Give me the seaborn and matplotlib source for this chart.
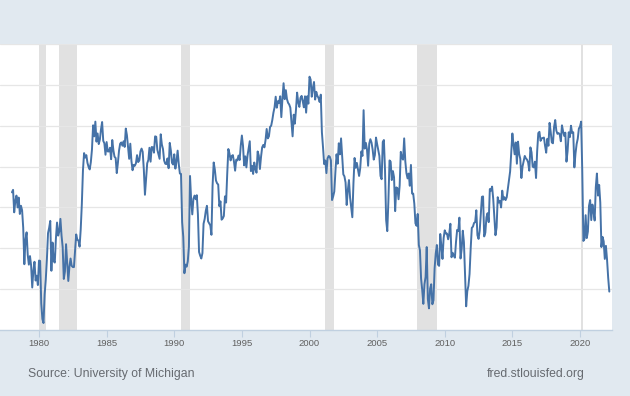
import numpy as np
import pandas as pd
import matplotlib
matplotlib.use("Agg")
import matplotlib.pyplot as plt
import seaborn as sns

# University of Michigan consumer sentiment, monthly, Jan 1978 - Mar 2022
sentiment = [
    83.7, 84.3, 78.8, 81.6, 82.9, 80.0, 82.4, 78.4, 80.4, 79.3, 75.0, 66.1,
    72.1, 73.9, 68.4, 66.0, 68.1, 65.8, 60.4, 64.5, 66.7, 62.1, 63.3, 61.0,
    67.0, 66.9, 56.5, 52.7, 51.7, 58.7, 62.3, 67.3, 73.7, 75.0, 76.7, 64.5,
    71.4, 66.9, 66.5, 72.4, 76.3, 73.1, 74.1, 77.2, 73.1, 70.3, 62.5, 64.3,
    71.0, 66.5, 62.0, 65.5, 67.5, 65.7, 65.4, 65.4, 69.3, 73.4, 72.1, 71.9,
    70.4, 74.6, 80.8, 89.1, 93.3, 92.2, 92.8, 90.9, 89.9, 89.3, 91.1, 94.2,
    100.1, 97.4, 101.0, 96.1, 98.1, 95.5, 96.6, 99.1, 100.9, 96.3, 95.7, 92.9,
    96.0, 93.7, 93.7, 94.6, 91.8, 96.5, 94.0, 92.4, 92.1, 88.4, 90.9, 93.9,
    95.6, 95.9, 95.1, 96.2, 94.8, 99.3, 97.7, 94.9, 91.9, 95.6, 91.4, 89.1,
    90.4, 90.2, 90.8, 92.8, 91.1, 91.5, 93.7, 94.4, 93.6, 89.3, 83.1, 86.8,
    90.8, 91.6, 94.6, 91.2, 94.8, 94.7, 93.4, 97.4, 97.3, 94.1, 93.0, 91.9,
    97.9, 95.4, 94.3, 91.5, 90.7, 90.6, 92.0, 89.6, 95.8, 93.9, 90.9, 90.5,
    93.0, 89.5, 91.3, 93.9, 90.6, 88.3, 88.2, 76.4, 72.8, 63.9, 66.0, 65.5,
    66.8, 70.4, 87.7, 81.8, 78.3, 82.1, 82.9, 82.0, 83.0, 78.3, 69.1, 68.2,
    67.5, 68.8, 76.0, 77.2, 79.2, 80.4, 76.6, 76.1, 75.6, 73.3, 85.3, 91.0,
    89.3, 86.6, 85.9, 85.6, 80.3, 81.5, 77.0, 77.3, 77.9, 82.7, 81.2, 88.2,
    94.3, 93.2, 91.5, 92.6, 92.8, 91.2, 89.0, 91.7, 91.5, 92.7, 91.6, 95.1,
    97.6, 95.1, 90.3, 92.5, 89.8, 92.7, 94.4, 96.2, 88.9, 90.2, 88.2, 91.0,
    89.3, 88.5, 93.7, 92.7, 89.4, 92.4, 94.7, 95.3, 94.7, 96.5, 99.2, 96.9,
    97.4, 99.7, 100.0, 101.4, 103.2, 104.5, 107.1, 104.4, 106.0, 105.6, 107.2, 102.1,
    106.6, 110.4, 106.5, 108.7, 106.5, 105.6, 105.2, 104.4, 100.9, 97.4, 102.7, 100.5,
    103.9, 108.1, 105.7, 104.6, 106.8, 107.3, 106.0, 104.5, 107.2, 103.2, 107.2, 105.4,
    112.0, 111.3, 107.1, 109.2, 110.7, 106.4, 108.3, 107.3, 106.8, 105.8, 107.6, 98.4,
    94.7, 90.6, 91.5, 88.4, 92.0, 92.6, 92.4, 91.5, 81.8, 82.7, 83.9, 88.8,
    93.0, 90.7, 95.7, 93.0, 96.9, 92.4, 88.1, 87.6, 86.1, 80.6, 84.2, 86.7,
    82.4, 79.9, 77.6, 86.0, 92.1, 89.7, 90.9, 89.3, 87.7, 89.6, 93.7, 92.6,
    103.8, 94.4, 95.8, 94.2, 90.2, 95.6, 96.7, 95.9, 94.2, 91.7, 92.8, 97.1,
    95.5, 94.1, 92.6, 87.7, 86.9, 96.0, 96.5, 89.1, 76.9, 74.2, 81.6, 91.5,
    91.2, 86.7, 88.9, 87.4, 79.1, 84.9, 84.7, 82.0, 85.4, 93.6, 92.1, 91.7,
    96.9, 91.3, 88.4, 87.1, 88.3, 85.3, 90.4, 83.4, 83.4, 80.9, 76.1, 75.5,
    78.4, 70.8, 69.5, 62.6, 59.8, 56.4, 61.2, 63.0, 70.3, 57.6, 55.3, 60.1,
    61.2, 56.3, 57.3, 65.1, 68.7, 70.8, 66.0, 65.7, 73.5, 70.6, 67.4, 72.5,
    74.4, 73.6, 73.6, 72.2, 73.6, 76.0, 67.8, 68.9, 68.2, 67.7, 71.6, 74.5,
    74.2, 77.5, 67.5, 69.8, 74.3, 71.5, 63.7, 55.8, 59.5, 60.8, 63.7, 69.9,
    75.0, 75.3, 76.2, 76.4, 79.3, 73.2, 72.3, 74.3, 78.3, 82.6, 82.7, 72.9,
    73.8, 77.6, 78.6, 76.4, 84.5, 84.1, 85.1, 82.1, 77.5, 73.2, 75.1, 82.5,
    81.2, 81.6, 80.0, 84.1, 81.9, 82.5, 81.8, 82.5, 84.6, 86.9, 88.8, 93.6,
    98.1, 95.4, 93.0, 95.9, 90.7, 96.1, 93.1, 91.9, 87.2, 90.0, 91.3, 92.6,
    92.0, 91.7, 91.0, 89.0, 94.7, 93.5, 90.0, 89.8, 91.2, 87.2, 93.8, 98.2,
    98.5, 96.3, 96.9, 97.0, 97.1, 95.1, 93.4, 96.8, 95.1, 100.7, 98.5, 95.9,
    95.7, 99.7, 101.4, 98.8, 98.0, 98.2, 97.9, 96.2, 100.1, 98.6, 97.5, 98.3,
    91.2, 93.8, 98.4, 97.2, 100.0, 98.2, 98.4, 89.8, 93.2, 95.5, 96.8, 99.3,
    99.8, 101.0, 89.1, 71.8, 72.3, 78.1, 72.5, 74.1, 80.4, 81.8, 76.9, 80.7,
    79.0, 76.8, 84.9, 88.3, 82.9, 85.5, 81.2, 70.3, 72.8, 71.7, 67.4, 70.6,
    67.2, 62.8, 59.4,
]
start_year = 1978
# recession periods (start, end) as decimal years
recession_starts = [1980.0, 1981.5, 1990.5, 2001.167, 2007.917, 2020.083]
recession_ends = [1980.5, 1982.833, 1991.167, 2001.833, 2009.417, 2020.25]
tick_years = [1980, 1985, 1990, 1995, 2000, 2005, 2010, 2015, 2020]

df = pd.DataFrame({
    "t": start_year + np.arange(len(sentiment)) / 12.0,
    "value": sentiment,
})

bg = "#e1e9f0"
sns.set_theme(style="white")
plt.rcParams["font.family"] = ["Liberation Sans", "DejaVu Sans"]

fig = plt.figure(figsize=(6.3, 3.96), dpi=100, facecolor=bg)
ax = fig.add_axes([0, 66 / 396, 612 / 630, (330 - 44) / 396])
ax.set_facecolor("white")

for s, e in zip(recession_starts, recession_ends):
    ax.axvspan(s, e, color="#e1e1e1", lw=0, zorder=0)

for yv in range(60, 121, 10):
    ax.axhline(yv, color="#e6e6e6", lw=0.9, zorder=0.5)

sns.lineplot(data=df, x="t", y="value", ax=ax, color="#4572a7", lw=1.4, zorder=3)

ax.set_xlim(1980 - 39 / 13.525, 2020 + 32 / 13.525)
ax.set_ylim(50, 120)
ax.set_xticks(tick_years)
ax.set_xticklabels([str(y) for y in tick_years])
ax.set_yticks([])
ax.set_xlabel("")
ax.set_ylabel("")
for side in ["top", "left", "right"]:
    ax.spines[side].set_visible(False)
ax.spines["bottom"].set_color("#c0d0e0")
ax.spines["bottom"].set_linewidth(1.0)
ax.tick_params(axis="x", bottom=True, length=5, width=0.8, color="#c0d0e0",
               labelsize=6.8, labelcolor="#606060", pad=1.5)

fig.text(28 / 630, 1 - 374 / 396, "Source: University of Michigan",
         fontsize=8.8, color="#666a70", va="center", ha="left")
fig.text(585 / 630, 1 - 374 / 396, "fred.stlouisfed.org",
         fontsize=8.8, color="#666a70", va="center", ha="right")

fig.savefig("out.png", dpi=100, facecolor=bg)
